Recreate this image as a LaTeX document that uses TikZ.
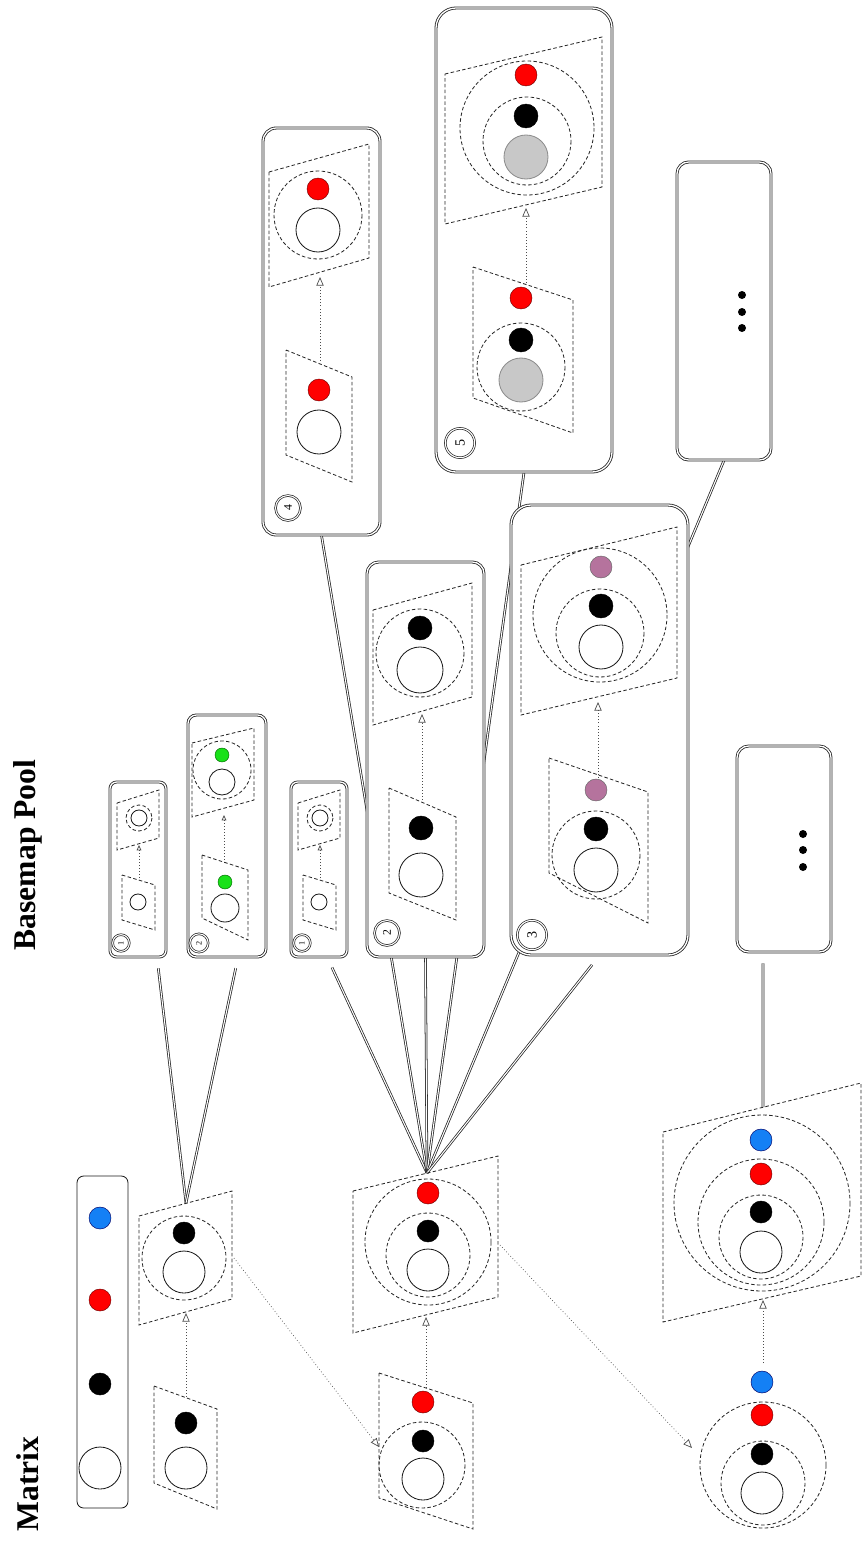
\documentclass[tikz,border=0pt]{standalone}
\usepackage{fontspec}
\setmainfont{Liberation Serif}
\usepackage{xcolor}
\usepackage{tikz}
\usetikzlibrary{arrows.meta,positioning,fit,backgrounds}

\definecolor{dotred}{RGB}{255,0,0}
\definecolor{dotblue}{RGB}{20,128,245}
\definecolor{dotgreen}{RGB}{25,225,25}
\definecolor{dotpurple}{RGB}{181,115,157}
\definecolor{dotgray}{RGB}{200,200,200}

\begin{document}
\begin{tikzpicture}[
    x=0.03cm,y=-0.03cm,
    pool/.style={draw=black!85, double=white, double distance=1.1pt, line width=0.7pt,
                 fill=white, inner sep=0pt, rounded corners=0.35cm},
    legendbox/.style={draw=black!90, line width=0.7pt, rounded corners=0.2cm, inner sep=0pt},
    link/.style={draw=black!85, double=white, double distance=0.9pt, line width=0.65pt},
    quad/.style={draw=black!85, line width=0.7pt, dash pattern=on 3pt off 2pt},
    ring/.style={quad},
    flow/.style={draw=black!70, line width=0.6pt, dotted, -{Triangle[open,length=2.6mm,width=2.2mm]}},
    sflow/.style={draw=black!70, line width=0.6pt, dotted, -{Triangle[open,length=1.6mm,width=1.4mm]}},
    badge/.style={circle, draw=black!85, double=white, double distance=0.9pt, line width=0.6pt,
                  inner sep=0pt, rotate=90, fill=white},
    whitedot/.style={draw=black!90, fill=white, line width=0.7pt},
    blackdot/.style={draw=black, fill=black},
    reddot/.style={draw=red!45!black, fill=dotred, line width=0.4pt},
    bluedot/.style={draw=blue!40!black, fill=dotblue, line width=0.4pt},
    greendot/.style={draw=green!40!black, fill=dotgreen, line width=0.4pt},
    purpledot/.style={draw=black!60, fill=dotpurple, line width=0.4pt},
    graydot/.style={draw=black!45, fill=dotgray, line width=0.7pt},
    title/.style={font=\fontsize{27}{30}\selectfont\bfseries, rotate=90}
]
\useasboundingbox (0,0) rectangle (865,1542);

% Titles
\node[title] (matrixlbl) at (28,1484) {Matrix};
\node[title] (poollbl) at (28,855) {Basemap Pool};

% Legend
\node[legendbox, fit={(77,1176) (128,1508)}] (legend) {};
\draw[bluedot] (100,1218) circle (11);
\draw[reddot] (100,1300) circle (11);
\draw[blackdot] (100,1384) circle (11);
\draw[whitedot] (100,1468) circle (21);

% Matrix column A
\draw[quad] (154,1386) -- (217,1409) -- (217,1509) -- (154,1483) -- cycle;
\draw[blackdot] (186,1423) circle (11);
\draw[whitedot] (186,1468) circle (21);
\coordinate (a1top) at (186,1397);

\draw[quad] (139,1216) -- (232,1191) -- (232,1299) -- (139,1325) -- cycle;
\draw[ring] (184,1258) circle (42);
\draw[blackdot] (184,1233) circle (11);
\draw[whitedot] (184,1272) circle (21);
\coordinate (a2top) at (186,1203);
\coordinate (a2bot) at (186,1313);
\coordinate (a2right) at (234,1258);

% Matrix column B
\draw[quad] (379,1373) -- (473,1403) -- (473,1529) -- (379,1498) -- cycle;
\draw[ring] (422,1465) circle (43);
\draw[reddot] (423,1402) circle (11);
\draw[blackdot] (423,1441) circle (11);
\draw[whitedot] (423,1479) circle (21);
\coordinate (b1top) at (426,1388);
\coordinate (b1left) at (379,1447);

\draw[quad] (353,1191) -- (498,1156) -- (498,1297) -- (353,1333) -- cycle;
\draw[ring] (428,1242) circle (63);
\draw[ring] (428,1255) circle (42);
\draw[reddot] (428,1193) circle (11);
\draw[blackdot] (428,1231) circle (11);
\draw[whitedot] (428,1270) circle (21);
\coordinate (b2top) at (427,1173);
\coordinate (b2bot) at (426,1317);
\coordinate (b2right) at (500,1245);

% Matrix column C
\draw[ring] (763,1465) circle (63);
\draw[ring] (763,1483) circle (42);
\draw[bluedot] (762,1382) circle (11);
\draw[reddot] (762,1415) circle (11);
\draw[blackdot] (762,1454) circle (11);
\draw[whitedot] (762,1493) circle (21);
\coordinate (c1top) at (763,1363);
\coordinate (c1left) at (692,1448);

\draw[quad] (663,1132) -- (861,1083) -- (861,1276) -- (663,1322) -- cycle;
\draw[ring] (762,1203) circle (88);
\draw[ring] (761,1222) circle (63);
\draw[ring] (761,1237) circle (42);
\draw[bluedot] (761,1140) circle (11);
\draw[reddot] (761,1174) circle (11);
\draw[blackdot] (761,1212) circle (11);
\draw[whitedot] (761,1252) circle (21);
\coordinate (c2top) at (763,1107);
\coordinate (c2bot) at (763,1300);

\draw[flow] (a1top) -- (a2bot);
\draw[flow] (b1top) -- (b2bot);
\draw[flow] (c1top) -- (c2bot);
\draw[flow] (a2right) -- (b1left);
\draw[flow] (b2right) -- (c1left);

% Basemap pool: small tiles
\foreach \dx/\id in {0/p1a,181/p1b}{
  \node[pool, rounded corners=0.2cm, fit={(110+\dx,782) (166+\dx,957)}] (\id) {};
  \begin{scope}[shift={(\dx,0)}]
    \draw[quad] (117,803) -- (159,790) -- (159,838) -- (117,850) -- cycle;
    \draw[ring] (139,818) circle (13);
    \draw[whitedot] (139,818) circle (8);
    \draw[sflow] (139,878) -- (139,845);
    \draw[quad] (122,875) -- (155,885) -- (155,930) -- (122,920) -- cycle;
    \draw[whitedot] (138,902) circle (8);
    \node[badge, minimum size=0.5cm, font=\scriptsize] (\id-no) at (121,943) {1};
  \end{scope}
}

\node[pool, rounded corners=0.25cm, fit={(188,715) (266,957)}] (p2a) {};
\draw[quad] (192,743) -- (254,728) -- (254,800) -- (192,817) -- cycle;
\draw[ring] (222,770) circle (29);
\draw[greendot] (222,755) circle (7);
\draw[whitedot] (222,782) circle (13);
\draw[sflow] (224,863) -- (224,815);
\draw[quad] (202,855) -- (248,870) -- (248,940) -- (202,918) -- cycle;
\draw[greendot] (225,882) circle (7);
\draw[whitedot] (225,908) circle (14);
\node[badge, minimum size=0.55cm, font=\scriptsize] (p2a-no) at (199,943) {2};

% Basemap pool: large tiles
\node[pool, fit={(367,562) (484,957)}] (p2b) {};
\draw[quad] (373,610) -- (472,583) -- (472,697) -- (373,725) -- cycle;
\draw[ring] (420,653) circle (44);
\draw[blackdot] (420,628) circle (12);
\draw[whitedot] (420,670) circle (23);
\draw[flow] (422,800) -- (422,714);
\draw[quad] (389,788) -- (456,817) -- (456,920) -- (389,893) -- cycle;
\draw[blackdot] (421,828) circle (12);
\draw[whitedot] (421,875) circle (22);
\node[badge, minimum size=0.75cm, font=\normalsize] (p2b-no) at (387,933) {2};

\node[pool, rounded corners=0.6cm, fit={(511,505) (688,955)}] (p3) {};
\draw[quad] (521,565) -- (677,527) -- (677,678) -- (521,715) -- cycle;
\draw[ring] (600,615) circle (67);
\draw[ring] (600,633) circle (44);
\draw[purpledot] (601,567) circle (11);
\draw[blackdot] (601,606) circle (12);
\draw[whitedot] (601,647) circle (22);
\draw[flow] (598,778) -- (598,702);
\draw[quad] (549,758) -- (648,792) -- (648,923) -- (549,873) -- cycle;
\draw[ring] (596,855) circle (44);
\draw[purpledot] (596,790) circle (11);
\draw[blackdot] (596,829) circle (12);
\draw[whitedot] (596,870) circle (22);
\node[badge, minimum size=0.88cm, font=\large] (p3-no) at (532,935) {3};

\node[pool, rounded corners=0.4cm, fit={(263,128) (380,535)}] (p4) {};
\draw[quad] (269,172) -- (369,144) -- (369,258) -- (269,287) -- cycle;
\draw[ring] (318,215) circle (44);
\draw[reddot] (318,189) circle (11);
\draw[whitedot] (318,230) circle (22);
\draw[flow] (320,361) -- (320,277);
\draw[quad] (286,350) -- (352,377) -- (352,482) -- (286,455) -- cycle;
\draw[reddot] (319,390) circle (11);
\draw[whitedot] (319,432) circle (22);
\node[badge, minimum size=0.75cm, font=\normalsize] (p4-no) at (288,508) {4};

\node[pool, rounded corners=0.6cm, fit={(436,8) (612,472)}] (p5) {};
\draw[quad] (445,74) -- (602,37) -- (602,187) -- (445,224) -- cycle;
\draw[ring] (527,128) circle (67);
\draw[ring] (527,141) circle (44);
\draw[reddot] (526,75) circle (11);
\draw[blackdot] (526,116) circle (12);
\draw[graydot] (526,157) circle (22);
\draw[flow] (526,283) -- (526,208);
\draw[quad] (473,267) -- (573,300) -- (573,433) -- (473,398) -- cycle;
\draw[ring] (521,367) circle (44);
\draw[reddot] (521,298) circle (11);
\draw[blackdot] (521,340) circle (12);
\draw[graydot] (521,380) circle (22);
\node[badge, minimum size=0.88cm, font=\large] (p5-no) at (460,443) {5};

% More basemaps
\node[pool, fit={(677,162) (771,460)}] (e1) {};
\foreach \y in {295,312,328} \fill (742,\y) circle (4);
\node[pool, fit={(737,746) (831,952)}] (e2) {};
\foreach \y in {834,850,867} \fill (803,\y) circle (4);

% Links into the pool
\begin{scope}[on background layer]
\draw[link, shorten >=0.33cm] (a2top) -- ([xshift=0.57cm]p1a.south);
\draw[link, shorten >=0.33cm] (a2top) -- ([xshift=0.33cm]p2a.south);
\draw[link, shorten >=0.33cm] (b2top) -- ([xshift=0.25cm]p1b.south);
\draw[link] (b2top) -- (p4.south);
\draw[link] (b2top) -- (p2b.south);
\draw[link] (b2top) -- (p5.south);
\draw[link] (b2top) -- (e1.south);
\draw[link, shorten >=0.36cm] (b2top) -- (p3.south);
\draw[link, shorten <=0.33cm] ([xshift=-0.63cm]e2.south) -- (c2top);
\end{scope}
\end{tikzpicture}
\end{document}
